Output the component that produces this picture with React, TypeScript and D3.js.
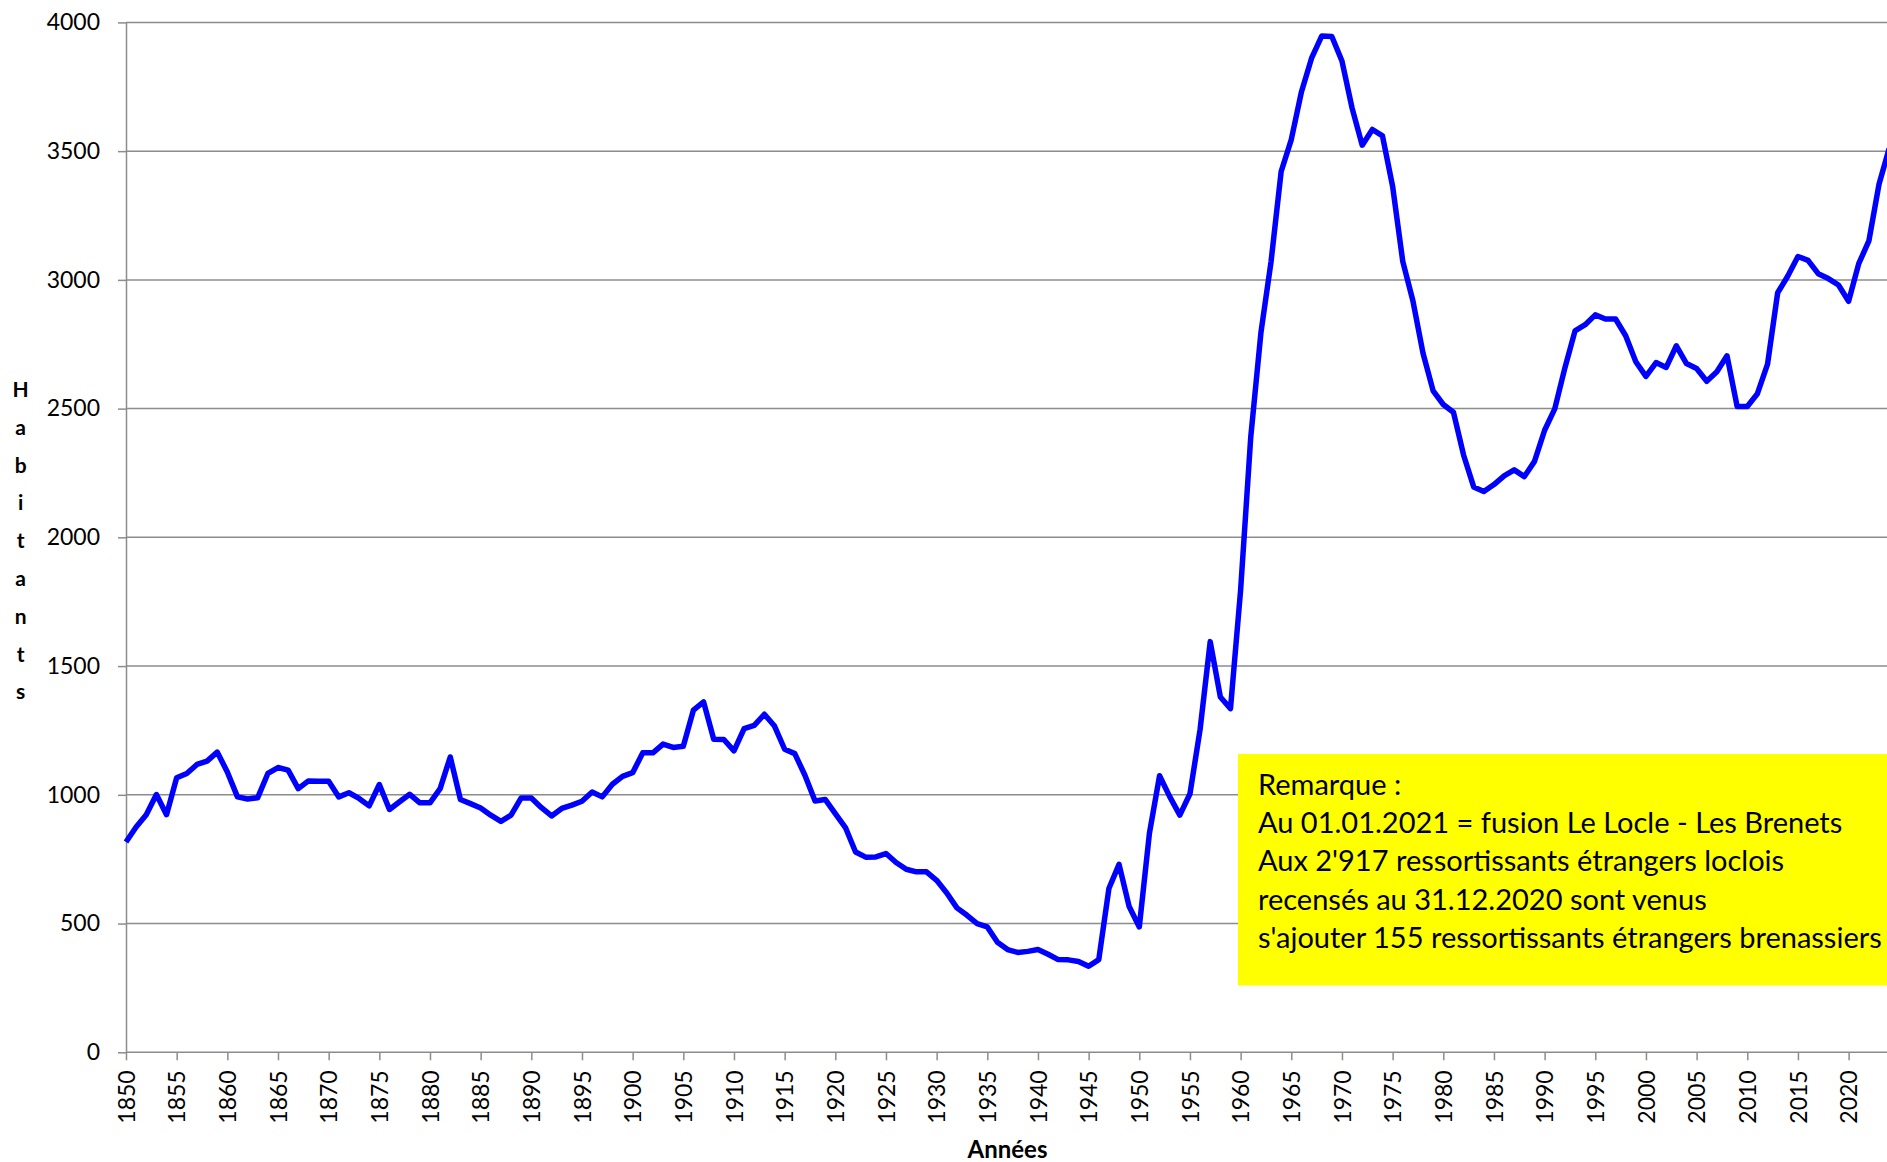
import React, { useEffect, useRef } from 'react'
import * as d3 from 'd3'

// Le Locle – ressortissants étrangers, 1850–2024
const startYear = 1850
const habitants = [
  817, 875, 923, 1001, 923, 1066, 1083, 1118, 1131, 1166,
  1089, 992, 984, 989, 1083, 1106, 1096, 1024, 1054, 1053,
  1053, 992, 1008, 986, 957, 1040, 943, 973, 1002, 969,
  969, 1024, 1147, 982, 966, 949, 921, 897, 921, 988,
  988, 950, 918, 947, 960, 975, 1011, 992, 1041, 1072,
  1086, 1163, 1163, 1197, 1184, 1189, 1329, 1361, 1216, 1215,
  1171, 1257, 1270, 1313, 1267, 1177, 1160, 1076, 976, 982,
  927, 873, 778, 758, 759, 772, 737, 711, 701, 701,
  668, 619, 561, 532, 500, 487, 427, 399, 388, 392,
  399, 381, 360, 359, 353, 334, 360, 636, 730, 566,
  487, 851, 1074, 993, 921, 1004, 1254, 1595, 1380, 1335,
  1796, 2390, 2794, 3070, 3421, 3545, 3730, 3861, 3947, 3945,
  3850, 3667, 3523, 3584, 3559, 3363, 3072, 2919, 2715, 2569,
  2516, 2486, 2320, 2196, 2178, 2205, 2239, 2262, 2236, 2295,
  2416, 2499, 2658, 2802, 2826, 2864, 2848, 2848, 2783, 2682,
  2625, 2679, 2660, 2744, 2675, 2656, 2606, 2643, 2705, 2508,
  2508, 2558, 2673, 2950, 3015, 3091, 3076, 3024, 3005, 2980,
  2917, 3063, 3151, 3371, 3510
]
const yTicks = [0, 500, 1000, 1500, 2000, 2500, 3000, 3500, 4000]
const xTicks = d3.range(1850, 2021, 5)
const yTitle = 'Habitants'
const xTitle = 'Années'
const remarque = [
  'Remarque :',
  'Au 01.01.2021 = fusion Le Locle - Les Brenets',
  "Aux 2'917 ressortissants étrangers loclois",
  'recensés au 31.12.2020 sont venus',
  "s'ajouter 155 ressortissants étrangers brenassiers"
]

const W = 1887
const H = 1162
const FONT = 'Lato, "Open Sans", sans-serif'
const GRID = '#8c8c8c'

export default function App() {
  const svgRef = useRef<SVGSVGElement>(null)

  useEffect(() => {
    if (!svgRef.current) return
    const svg = d3.select(svgRef.current)
    svg.selectAll('*').remove()

    const left = 126
    const top = 22.4
    const bottom = 1052.3
    const yearW = 10.133
    const lastYear = startYear + habitants.length - 1

    const x = d3.scaleLinear()
      .domain([startYear, lastYear])
      .range([left, left + (lastYear - startYear) * yearW])
    const y = d3.scaleLinear().domain([0, 4000]).range([bottom, top])

    const points = habitants.map((v, i) => ({ year: startYear + i, value: v }))

    // horizontal grid
    svg.append('g')
      .selectAll('line')
      .data(yTicks.filter(t => t > 0))
      .enter()
      .append('line')
      .attr('x1', left)
      .attr('x2', W)
      .attr('y1', d => y(d))
      .attr('y2', d => y(d))
      .attr('stroke', GRID)
      .attr('stroke-width', 1.5)

    // y axis
    const yAxis = svg.append('g')
      .attr('transform', `translate(${left},0)`)
      .call(d3.axisLeft(y).tickValues(yTicks).tickFormat(d3.format('d')).tickSize(8).tickPadding(18).tickSizeOuter(0))
    yAxis.select('.domain').attr('stroke', GRID).attr('stroke-width', 1.5)
    yAxis.selectAll('.tick line').attr('stroke', GRID).attr('stroke-width', 1.5)
    yAxis.selectAll('.tick text')
      .attr('fill', '#000')
      .style('font-family', FONT)
      .style('font-size', '23px')

    // x axis
    const xAxis = svg.append('g')
      .attr('transform', `translate(0,${bottom})`)
      .call(d3.axisBottom(x).tickValues(xTicks).tickFormat(d3.format('d')).tickSize(8).tickSizeOuter(0))
    xAxis.select('.domain')
      .attr('d', `M${left},0H${W}`)
      .attr('stroke', GRID)
      .attr('stroke-width', 1.5)
    xAxis.selectAll('.tick line').attr('stroke', GRID).attr('stroke-width', 1.5)
    xAxis.selectAll('.tick text')
      .attr('fill', '#000')
      .attr('transform', 'rotate(-90)')
      .attr('x', -18)
      .attr('y', 0)
      .attr('dy', '0.35em')
      .style('text-anchor', 'end')
      .style('font-family', FONT)
      .style('font-size', '23px')

    // series
    const line = d3.line<{ year: number; value: number }>()
      .x(d => x(d.year))
      .y(d => y(d.value))

    svg.append('path')
      .datum(points)
      .attr('fill', 'none')
      .attr('stroke', '#0000ff')
      .attr('stroke-width', 5.5)
      .attr('stroke-linejoin', 'round')
      .attr('d', line)

    // note box (cut by the right edge, as in the original)
    const note = svg.append('g')
    note.append('rect')
      .attr('x', 1238)
      .attr('y', 754)
      .attr('width', 700)
      .attr('height', 231.5)
      .attr('fill', '#ffff00')
    note.selectAll('text')
      .data(remarque)
      .enter()
      .append('text')
      .attr('x', 1258)
      .attr('y', (_, i) => 795 + i * 38.2)
      .style('font-family', FONT)
      .style('font-size', '29px')
      .attr('fill', '#000')
      .text(d => d)

    // axis titles
    svg.append('g')
      .selectAll('text')
      .data(yTitle.split(''))
      .enter()
      .append('text')
      .attr('x', 20.7)
      .attr('y', (_, i) => 397 + i * 37.8)
      .attr('text-anchor', 'middle')
      .style('font-family', FONT)
      .style('font-weight', 'bold')
      .style('font-size', '21px')
      .text(d => d)

    svg.append('text')
      .attr('x', 1007.5)
      .attr('y', 1158)
      .attr('text-anchor', 'middle')
      .style('font-family', FONT)
      .style('font-weight', 'bold')
      .style('font-size', '24px')
      .text(xTitle)
  }, [])

  return (
    <div style={{ position: 'absolute', left: 0, top: 0, width: W, height: H, overflow: 'hidden', background: '#fff' }}>
      <svg ref={svgRef} width={W} height={H} style={{ display: 'block' }} />
    </div>
  )
}
